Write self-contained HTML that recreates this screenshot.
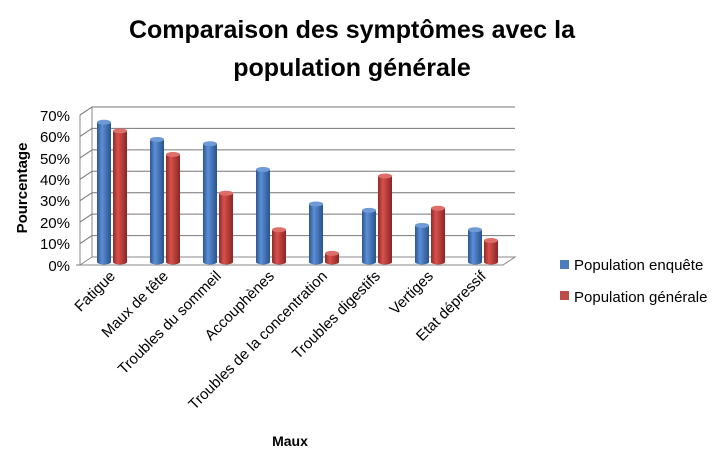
<!DOCTYPE html>
<html><head><meta charset="utf-8"><style>body{margin:0;background:#fff}svg{display:block}</style></head><body>
<svg width="717" height="454" xmlns="http://www.w3.org/2000/svg" font-family="Liberation Sans, sans-serif">
<defs>
<linearGradient id="gb" x1="0" x2="1"><stop offset="0" stop-color="#2c5590"/><stop offset="0.35" stop-color="#5b8fd6"/><stop offset="1" stop-color="#28528c"/></linearGradient>
<linearGradient id="gr" x1="0" x2="1"><stop offset="0" stop-color="#8e2a28"/><stop offset="0.35" stop-color="#d9504c"/><stop offset="1" stop-color="#892624"/></linearGradient>
</defs>
<text x="352" y="38" text-anchor="middle" font-size="25" font-weight="bold">Comparaison des symptômes avec la</text>
<text x="352" y="76" text-anchor="middle" font-size="25" font-weight="bold">population générale</text>
<g stroke="#888" stroke-width="1" fill="none">
<path d="M92,107 L92,257 L515,257 L503,265 L80,265 L80,115 Z"/>
<path d="M92,257 L80,265"/>
</g>
<g stroke="#777" stroke-width="1">
<line x1="92" y1="107" x2="515" y2="107"/><line x1="92" y1="128.4" x2="515" y2="128.4"/><line x1="92" y1="149.9" x2="515" y2="149.9"/><line x1="92" y1="171.3" x2="515" y2="171.3"/><line x1="92" y1="192.7" x2="515" y2="192.7"/><line x1="92" y1="214.1" x2="515" y2="214.1"/><line x1="92" y1="235.6" x2="515" y2="235.6"/>
<line x1="80" y1="115" x2="92" y2="107"/><line x1="80" y1="136.4" x2="92" y2="128.4"/><line x1="80" y1="157.9" x2="92" y2="149.9"/><line x1="80" y1="179.3" x2="92" y2="171.3"/><line x1="80" y1="200.7" x2="92" y2="192.7"/><line x1="80" y1="222.1" x2="92" y2="214.1"/><line x1="80" y1="243.6" x2="92" y2="235.6"/><line x1="76" y1="265" x2="80" y2="265"/>
</g>
<g font-size="15" text-anchor="end">
<text x="70" y="121">70%</text><text x="70" y="142">60%</text><text x="70" y="164">50%</text><text x="70" y="185">40%</text><text x="70" y="206">30%</text><text x="70" y="228">20%</text><text x="70" y="249">10%</text><text x="70" y="271">0%</text>
</g>
<text transform="translate(27,188) rotate(-90)" text-anchor="middle" font-size="15" font-weight="bold">Pourcentage</text>
<g>
<g transform="translate(97,122.25)"><rect width="14" height="139.75" fill="url(#gb)"/><ellipse cx="7" cy="139.75" rx="7" ry="2.5" fill="url(#gb)"/><ellipse cx="7" cy="0" rx="7" ry="2.5" fill="#6f9ad6"/></g>
<g transform="translate(150,139.45)"><rect width="14" height="122.55" fill="url(#gb)"/><ellipse cx="7" cy="122.55" rx="7" ry="2.5" fill="url(#gb)"/><ellipse cx="7" cy="0" rx="7" ry="2.5" fill="#6f9ad6"/></g>
<g transform="translate(203,143.75)"><rect width="14" height="118.25" fill="url(#gb)"/><ellipse cx="7" cy="118.25" rx="7" ry="2.5" fill="url(#gb)"/><ellipse cx="7" cy="0" rx="7" ry="2.5" fill="#6f9ad6"/></g>
<g transform="translate(256,169.55)"><rect width="14" height="92.45" fill="url(#gb)"/><ellipse cx="7" cy="92.45" rx="7" ry="2.5" fill="url(#gb)"/><ellipse cx="7" cy="0" rx="7" ry="2.5" fill="#6f9ad6"/></g>
<g transform="translate(309,203.95)"><rect width="14" height="58.05" fill="url(#gb)"/><ellipse cx="7" cy="58.05" rx="7" ry="2.5" fill="url(#gb)"/><ellipse cx="7" cy="0" rx="7" ry="2.5" fill="#6f9ad6"/></g>
<g transform="translate(362,210.4)"><rect width="14" height="51.6" fill="url(#gb)"/><ellipse cx="7" cy="51.6" rx="7" ry="2.5" fill="url(#gb)"/><ellipse cx="7" cy="0" rx="7" ry="2.5" fill="#6f9ad6"/></g>
<g transform="translate(415,225.45)"><rect width="14" height="36.55" fill="url(#gb)"/><ellipse cx="7" cy="36.55" rx="7" ry="2.5" fill="url(#gb)"/><ellipse cx="7" cy="0" rx="7" ry="2.5" fill="#6f9ad6"/></g>
<g transform="translate(468,229.75)"><rect width="14" height="32.25" fill="url(#gb)"/><ellipse cx="7" cy="32.25" rx="7" ry="2.5" fill="url(#gb)"/><ellipse cx="7" cy="0" rx="7" ry="2.5" fill="#6f9ad6"/></g>

<g transform="translate(113,130.85)"><rect width="14" height="131.15" fill="url(#gr)"/><ellipse cx="7" cy="131.15" rx="7" ry="2.5" fill="url(#gr)"/><ellipse cx="7" cy="0" rx="7" ry="2.5" fill="#dd6e6a"/></g>
<g transform="translate(166,154.5)"><rect width="14" height="107.5" fill="url(#gr)"/><ellipse cx="7" cy="107.5" rx="7" ry="2.5" fill="url(#gr)"/><ellipse cx="7" cy="0" rx="7" ry="2.5" fill="#dd6e6a"/></g>
<g transform="translate(219,193.2)"><rect width="14" height="68.8" fill="url(#gr)"/><ellipse cx="7" cy="68.8" rx="7" ry="2.5" fill="url(#gr)"/><ellipse cx="7" cy="0" rx="7" ry="2.5" fill="#dd6e6a"/></g>
<g transform="translate(272,229.75)"><rect width="14" height="32.25" fill="url(#gr)"/><ellipse cx="7" cy="32.25" rx="7" ry="2.5" fill="url(#gr)"/><ellipse cx="7" cy="0" rx="7" ry="2.5" fill="#dd6e6a"/></g>
<g transform="translate(325,253.4)"><rect width="14" height="8.6" fill="url(#gr)"/><ellipse cx="7" cy="8.6" rx="7" ry="2.5" fill="url(#gr)"/><ellipse cx="7" cy="0" rx="7" ry="2.5" fill="#dd6e6a"/></g>
<g transform="translate(378,176)"><rect width="14" height="86" fill="url(#gr)"/><ellipse cx="7" cy="86" rx="7" ry="2.5" fill="url(#gr)"/><ellipse cx="7" cy="0" rx="7" ry="2.5" fill="#dd6e6a"/></g>
<g transform="translate(431,208.25)"><rect width="14" height="53.75" fill="url(#gr)"/><ellipse cx="7" cy="53.75" rx="7" ry="2.5" fill="url(#gr)"/><ellipse cx="7" cy="0" rx="7" ry="2.5" fill="#dd6e6a"/></g>
<g transform="translate(484,240.5)"><rect width="14" height="21.5" fill="url(#gr)"/><ellipse cx="7" cy="21.5" rx="7" ry="2.5" fill="url(#gr)"/><ellipse cx="7" cy="0" rx="7" ry="2.5" fill="#dd6e6a"/></g>
</g>
<g font-size="15" text-anchor="end">
<text transform="translate(116,277) rotate(-45)">Fatigue</text>
<text transform="translate(169,277) rotate(-45)">Maux de tête</text>
<text transform="translate(222,277) rotate(-45)">Troubles du sommeil</text>
<text transform="translate(275,277) rotate(-45)">Accouphènes</text>
<text transform="translate(328,277) rotate(-45)">Troubles de la concentration</text>
<text transform="translate(381,277) rotate(-45)">Troubles digestifs</text>
<text transform="translate(434,277) rotate(-45)">Vertiges</text>
<text transform="translate(487,277) rotate(-45)">Etat dépressif</text>
</g>
<text x="290" y="446" text-anchor="middle" font-size="14" font-weight="bold">Maux</text>
<rect x="560" y="260" width="9" height="9" fill="#4a7ebb"/>
<text x="574" y="270" font-size="15">Population enquête</text>
<rect x="560" y="291" width="9" height="9" fill="#be4b48"/>
<text x="574" y="302" font-size="15">Population générale</text>
</svg>
</body></html>
